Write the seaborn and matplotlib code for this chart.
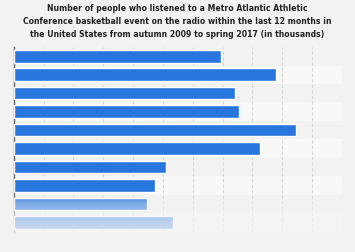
import numpy as np
import pandas as pd
import matplotlib
matplotlib.use("Agg")
import matplotlib.pyplot as plt
import seaborn as sns

# Data (in thousands)
seasons = ["Autumn 2009", "Spring 2010", "Autumn 2010", "Spring 2011", "Autumn 2011",
           "Spring 2012", "Autumn 2012", "Spring 2013", "Autumn 2013", "Spring 2014"]
listeners = [348, 440, 371, 378, 473, 413, 255, 237, 223, 267]
x_max = 550
grid_step = 50

title = ("Number of people who listened to a Metro Atlantic Athletic\n"
         "Conference basketball event on the radio within the last 12 months in\n"
         "the United States from autumn 2009 to spring 2017 (in thousands)")

df = pd.DataFrame({"season": seasons, "listeners": listeners})

sns.set_theme(style="white")
plt.rcParams["font.family"] = ["DejaVu Sans"]

fig = plt.figure(figsize=(3.55, 2.53), dpi=100)
fig.patch.set_facecolor("#f2f2f2")
ax = fig.add_axes([0.039, 0.081, 0.924, 0.729])
ax.set_facecolor("#f2f2f2")

# alternating row bands
for i in range(len(seasons)):
    if i % 2 == 1:
        ax.axhspan(i - 0.5, i + 0.5, color="#f8f8f8", zorder=0, lw=0)

sns.barplot(data=df, y="season", x="listeners", orient="h", color="#2876dd",
            saturation=1, width=0.68, ax=ax, zorder=3)

ax.set_xlim(0, x_max)
ax.set_ylim(len(seasons) - 0.5, -0.5)
ax.set_xticks(np.arange(0, x_max + 1, grid_step))
ax.grid(axis="x", color="#d6d6d6", linestyle=(0, (3, 2)), linewidth=0.8, zorder=1)
ax.set_axisbelow(True)
ax.tick_params(left=False, bottom=False, labelleft=False, labelbottom=False)
ax.set_xlabel("")
ax.set_ylabel("")
for s in ["top", "right", "bottom"]:
    ax.spines[s].set_visible(False)
ax.spines["left"].set_color("#666666")
ax.spines["left"].set_linewidth(1.0)

fig.text(0.5, 0.985, title, ha="center", va="top", fontsize=5.6,
         fontweight="bold", color="#222222", linespacing=1.6)

# bottom fade overlay (transparent at top, opaque towards bottom)
fade = fig.add_axes([0.0, 0.0, 1.0, 0.23], zorder=10)
frac = np.linspace(0, 1, 200)[:, None]
img = np.zeros((200, 2, 4))
img[..., 0] = 0.955
img[..., 1] = 0.955
img[..., 2] = 0.955
img[..., 3] = np.interp(frac, [0, 0.17, 0.48, 1], [0.0, 0.42, 0.72, 0.95])
fade.imshow(img, aspect="auto", extent=[0, 1, 0, 1], origin="upper")
fade.axis("off")

fig.savefig("out.png", dpi=100, facecolor=fig.get_facecolor())
